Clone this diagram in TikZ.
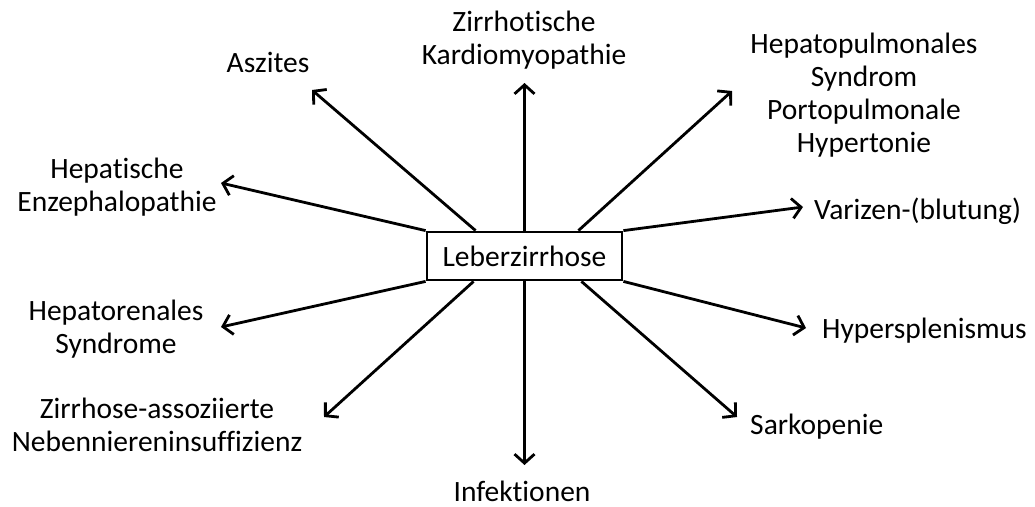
\documentclass[tikz,border=0pt]{standalone}
\usepackage{fontspec}
\setmainfont{Carlito}[Ligatures={NoCommon,NoDiscretionary,NoContextual}]
\usetikzlibrary{arrows.meta}
\begin{document}
\begin{tikzpicture}[x=1pt,y=-1pt,
  every node/.style={font=\fontsize{29.5}{33}\selectfont, inner sep=0pt},
  lbl/.style={align=center},
  mainbox/.style={draw, line width=2.8pt, minimum width=195pt, minimum height=48pt},
  arr/.style={line width=2.8pt, -{Straight Barb[length=9pt,width=20pt,line width=2.8pt]}}]
\useasboundingbox (0,0) rectangle (1035,506);
\node[mainbox] (c) at (524.5,256) {Leberzirrhose};
% labels
\node[lbl] (asz) at (268,62) {Aszites};
\node[lbl] (kard) at (524,40) {Zirrhotische\\Kardiomyopathie};
\node[lbl] (hps) at (864,95) {Hepatopulmonales\\Syndrom\\Portopulmonale\\Hypertonie};
\node[lbl] (he) at (117,187) {Hepatische\\Enzephalopathie};
\node[lbl,anchor=west] (var) at (814,211) {Varizen-(blutung)};
\node[lbl] (hrs) at (116,329) {Hepatorenales\\Syndrome};
\node[lbl,anchor=west] (hyp) at (822,331) {Hypersplenismus};
\node[lbl] (nni) at (157,425) {Zirrhose-assoziierte\\Nebenniereninsuffizienz};
\node[lbl] (inf) at (522,491) {Infektionen};
\node[lbl,anchor=west] (sar) at (750,427) {Sarkopenie};
% arrow tips
\coordinate (tasz) at (312,90);
\coordinate (tkard) at (524.5,83);
\coordinate (thps) at (732,91);
\coordinate (the) at (221,183);
\coordinate (tvar) at (803,207);
\coordinate (thrs) at (221,327);
\coordinate (thyp) at (806,328);
\coordinate (tnni) at (324,417);
\coordinate (tinf) at (524.5,465);
\coordinate (tsar) at (737,417);
% connectors
\draw[arr] ([xshift=50pt]c.north west) -- (tasz);
\draw[arr] (c.north) -- (tkard);
\draw[arr] ([xshift=-45pt]c.north east) -- (thps);
\draw[arr] (c.north west) -- (the);
\draw[arr] (c.north east) -- (tvar);
\draw[arr] (c.south west) -- (thrs);
\draw[arr] (c.south east) -- (thyp);
\draw[arr] ([xshift=48pt]c.south west) -- (tnni);
\draw[arr] (c.south) -- (tinf);
\draw[arr] ([xshift=-42pt]c.south east) -- (tsar);
\end{tikzpicture}
\end{document}
